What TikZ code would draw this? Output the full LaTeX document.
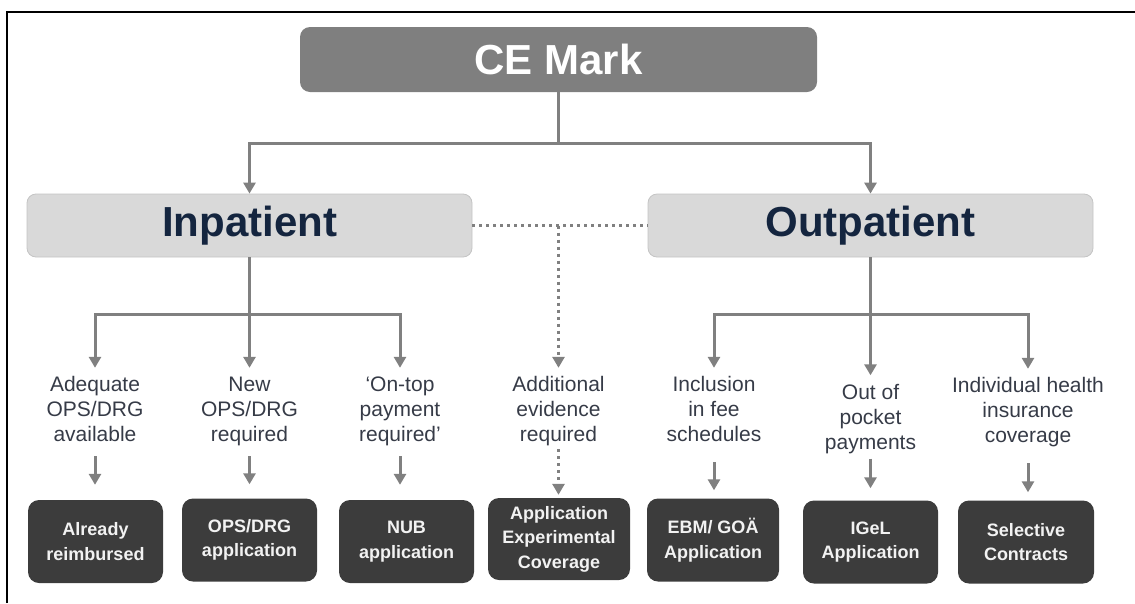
\documentclass[tikz,border=0pt]{standalone}
\usepackage{fontspec}
\setmainfont{Liberation Sans}
\usetikzlibrary{arrows.meta}

\definecolor{linegray}{HTML}{808080}
\definecolor{cefill}{HTML}{7F7F7F}
\definecolor{headfill}{HTML}{D9D9D9}
\definecolor{headedge}{HTML}{C4C4C4}
\definecolor{headtext}{HTML}{14253F}
\definecolor{boxfill}{HTML}{3C3C3C}
\definecolor{boxtext}{HTML}{F2F2F2}
\definecolor{lbltext}{HTML}{363B47}

\tikzset{
  cebox/.style={rounded corners=10pt, fill=cefill, draw=none, text=white,
    minimum width=517pt, minimum height=65pt, inner sep=0pt,
    font=\fontsize{42}{48}\selectfont\bfseries},
  headbox/.style={rounded corners=9pt, fill=headfill, draw=headedge, line width=0.8pt,
    text=headtext, minimum width=445pt, minimum height=63pt, inner sep=0pt,
    font=\fontsize{42}{48}\selectfont\bfseries},
  % three-line labels, placed by the baseline of their last line
  lbl/.style={align=center, anchor=base, text=lbltext, inner xsep=0pt, inner ysep=8.5pt,
    text height=65pt, text depth=5pt, font=\fontsize{21}{25}\selectfont},
  outbox/.style={rounded corners=11pt, fill=boxfill, draw=none, text=boxtext, align=center,
    minimum width=135pt, minimum height=83pt, inner sep=0pt,
    font=\fontsize{18}{24.5}\selectfont\bfseries},
  conn/.style={draw=linegray, line width=3pt},
  arr/.style={conn, -{Triangle[width=12pt,length=11pt]}},
  dotline/.style={draw=linegray, line width=3pt, dash pattern=on 3pt off 4pt},
  dotarr/.style={dotline, -{Triangle[width=12pt,length=11pt]}},
}

\begin{document}
\begin{tikzpicture}[x=1pt, y=-1pt]
\useasboundingbox (0,0) rectangle (1135,603);

% page frame
\draw[line width=1.6pt] (7,603) -- (7,12) -- (1135,12);

% top level
\node[cebox] (ce) at (558.5,59.5) {CE Mark};
\node[headbox] (inp) at (249.5,225.5) {Inpatient};
\node[headbox] (outp) at (870.5,225.5) {Outpatient};

\coordinate (cej) at (558.5,143);
\draw[conn] (ce.south) -- (cej);
\draw[arr] (cej) -| (inp.north);
\draw[arr] (cej) -| (outp.north);

% conditions
\node[lbl] (l1) at (95,441.5) {Adequate\\OPS/DRG\\available};
\node[lbl] (l2) at (249.5,441.5) {New\\OPS/DRG\\required};
\node[lbl] (l3) at (400,441.5) {‘On-top\\payment\\required’};
\node[lbl] (l4) at (558.5,441.5) {Additional\\evidence\\required};
\node[lbl] (l5) at (714,441.5) {Inclusion\\in fee\\schedules};
\node[lbl] (l6) at (870.5,449) {Out of\\pocket\\payments};
\node[lbl] (l7) at (1028,442.5) {Individual health\\insurance\\coverage};

% reimbursement routes
\node[outbox] (b1) at (95.5,541.5) {Already\\reimbursed};
\node[outbox] (b2) at (249.5,540) {OPS/DRG\\application};
\node[outbox] (b3) at (406.5,541.5) {NUB\\application};
\node[outbox, minimum width=142pt, minimum height=82pt] (b4) at (559,539) {Application\\Experimental\\Coverage};
\node[outbox, minimum width=132pt] (b5) at (713,540) {EBM/ GOÄ\\Application};
\node[outbox] (b6) at (870.5,542) {IGeL\\Application};
\node[outbox, minimum width=136pt] (b7) at (1026,542) {Selective\\Contracts};

% inpatient branch
\coordinate (ij) at (249.5,314);
\draw[conn] (inp.south) -- (ij);
\draw[arr] (ij) -| (l1.north);
\draw[arr] (ij) -- (l2.north);
\draw[arr] (ij) -| (l3.north);

% outpatient branch
\coordinate (oj) at (870.5,314);
\draw[conn] (outp.south) -- (oj);
\draw[arr] (oj) -| (l5.north);
\draw[arr] (oj) -- (l6.north);
\draw[arr] (oj) -| (l7.north);

% experimental coverage path
\coordinate (dj) at (558.5,225.5);
\draw[dotline] (inp.east) -- (outp.west);
\draw[dotarr] (dj) -- (l4.north);
\draw[dotarr, shorten <=-6pt, shorten >=3pt] (l4.south) -- (l4.south |- b4.north);

% short arrows to the routes
\draw[arr, shorten <=1pt, shorten >=15pt] (l1.south) -- (l1.south |- b1.north);
\draw[arr, shorten <=1pt, shorten >=14pt] (l2.south) -- (l2.south |- b2.north);
\draw[arr, shorten <=1pt, shorten >=15pt] (l3.south) -- (l3.south |- b3.north);
\draw[arr, shorten <=7pt, shorten >=8pt] (l5.south) -- (l5.south |- b5.north);
\draw[arr, shorten <=-4pt, shorten >=12pt] (l6.south) -- (l6.south |- b6.north);
\draw[arr, shorten <=7pt, shorten >=8pt] (l7.south) -- (l7.south |- b7.north);
\end{tikzpicture}
\end{document}
